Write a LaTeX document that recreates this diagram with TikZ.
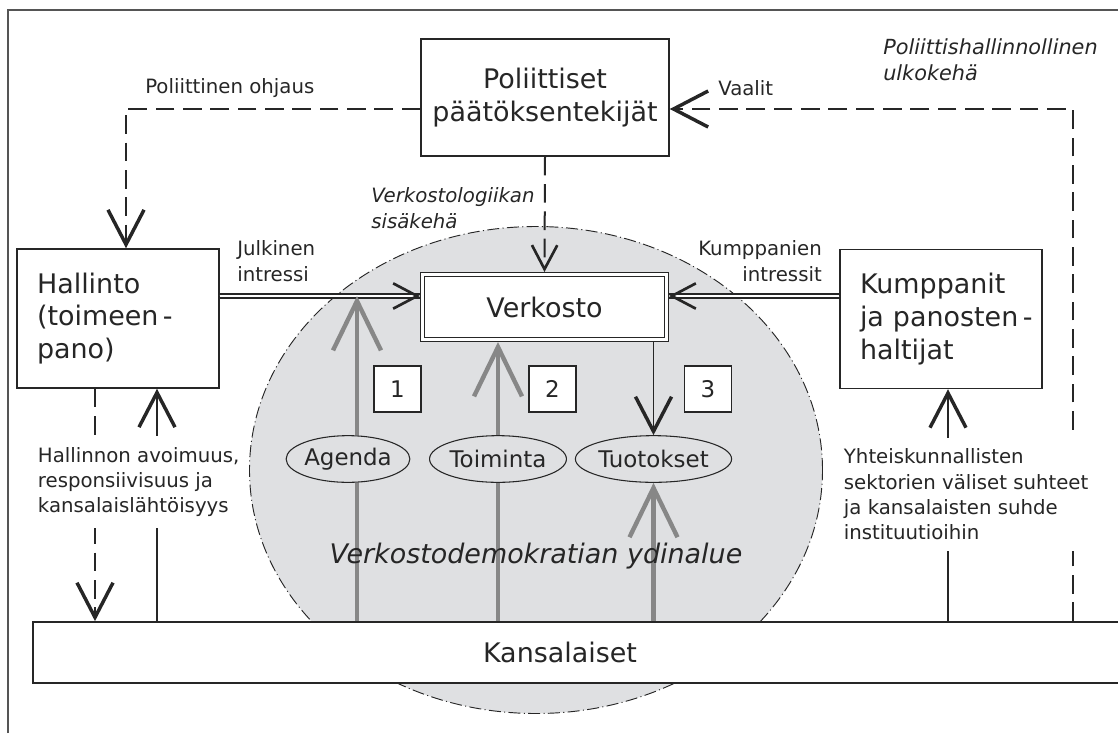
\documentclass[tikz,border=0pt]{standalone}
\usepackage{fontspec}
\setmainfont{DejaVu Sans}
\usetikzlibrary{arrows.meta,shapes.geometric}
\definecolor{coregray}{HTML}{DFE0E2}
\definecolor{arrowgray}{HTML}{878787}
\definecolor{framegray}{HTML}{555555}
\definecolor{inkgray}{HTML}{262626}
\newcommand{\bigText}[0]{\fontsize{20.2}{24.5}\selectfont}
\newcommand{\midText}[0]{\fontsize{17.2}{20}\selectfont}
\newcommand{\smallText}[0]{\fontsize{14.8}{19}\selectfont}
\newcommand{\lineY}[0]{296}

\begin{document}
\begin{tikzpicture}[x=0.75pt, y=-0.75pt, inkgray]
  \tikzset{
    box/.style={draw=inkgray, line width=1.1pt, fill=white, inner sep=0pt},
    sidebox/.style={box, text width=121.5pt, inner xsep=15pt, align=left, minimum height=104.25pt, font=\bigText},
    numbox/.style={box, minimum width=35pt, minimum height=34.5pt, font=\midText},
    stage/.style={ellipse, draw=inkgray, line width=0.8pt, fill=coregray, inner sep=0pt, minimum height=35pt, font=\midText},
    dashline/.style={draw=inkgray, line width=1.5pt, dash pattern=on 14pt off 6.5pt},
    thinline/.style={draw=inkgray, line width=1pt},
    dblline/.style={draw=inkgray, line width=0.9pt, double, double distance=2.2pt},
    hiddenline/.style={draw=white, line width=1pt},
    grayline/.style={draw=arrowgray, line width=3.3pt},
    note/.style={font=\smallText, inner sep=0pt, align=left},
    inote/.style={note, font=\smallText\itshape},
    gapnote/.style={note, fill=white, inner xsep=2pt, inner ysep=8pt},
    bigtip/.tip={Straight Barb[length=26pt, width=27pt, line width=2.6pt]},
    smalltip/.tip={Straight Barb[length=18pt, width=19pt, line width=2pt, color=inkgray]},
    graytip/.tip={Straight Barb[length=37pt, width=36pt, line width=3.3pt]}
  }
  \useasboundingbox (0,0) rectangle (1118,733);
  \node[ellipse, draw=inkgray, line width=0.7pt, dash pattern=on 9pt off 2.5pt on 0.8pt off 2.5pt, fill=coregray, minimum width=429.75pt, minimum height=365.25pt] (ydin) at (536,470) {};
  \draw[framegray, line width=1pt] (8,733) -- (8,10) -- (1118,10);
  \node[box, line width=1.3pt, minimum width=819pt, minimum height=45.75pt] (kansalaiset) at (579,652.5) {};
  \node[font=\bigText, inner sep=0pt] (kansalaisetTeksti) at (560,652) {Kansalaiset};
  \node[box, font=\bigText, align=center, minimum width=186pt, minimum height=87.75pt] (paattajat) at (545,97.5) {Poliittiset\\päätöksentekijät};
  \node[sidebox] (hallinto) at (118,318.5) {\mbox{Hallinto}\\\mbox{(toimeen\,-}\\\mbox{pano)}};
  \node[sidebox] (kumppanit) at (941,319) {\mbox{Kumppanit}\\\mbox{ja panosten\,-}\\\mbox{haltijat}};
  \node[box, font=\bigText, line width=0.9pt, double, double distance=2.2pt, outer sep=2pt, minimum width=182.75pt, minimum height=48.5pt] (verkosto) at (544.5,307) {Verkosto};
  \node[numbox] (vaihe1) at (397.5,389) {1};
  \node[numbox] (vaihe2) at (552.5,389) {2};
  \node[numbox] (vaihe3) at (708,389) {3};
  \node[stage, minimum width=76.5pt] (agenda) at (348,459) {Agenda};
  \node[stage, minimum width=93pt] (toiminta) at (498,459) {Toiminta};
  \node[stage, minimum width=117pt] (tuotokset) at (653.5,459) {Tuotokset};
  \coordinate (julkinenLinja) at (0,\lineY);
  \coordinate (agendaKohde) at (357,\lineY);
  \draw[dashline, -{bigtip}] (paattajat.west |- 0,109) -| (hallinto.north -| 126,0);
  \draw[dashline, -{bigtip}] (kansalaiset.north -| 1073,0) |- (paattajat.east |- 0,109);
  \draw[dashline, -{smalltip}] (paattajat.south) -- (verkosto.north);
  \draw[dashline, -{bigtip}] (hallinto.south -| 95,0) -- (kansalaiset.north -| 95,0);
  \draw[thinline, -{bigtip}] (kansalaiset.north -| 157,0) -- (hallinto.south -| 157,0);
  \draw[thinline, -{bigtip}] (kansalaiset.north -| 948,0) -- (kumppanit.south -| 948,0);
  \draw[dblline] (hallinto.east |- julkinenLinja) -- (verkosto.west |- julkinenLinja);
  \draw[dblline] (kumppanit.west |- julkinenLinja) -- (verkosto.east |- julkinenLinja);
  \draw[hiddenline, -{smalltip}] (hallinto.east |- julkinenLinja) -- (verkosto.west |- julkinenLinja);
  \draw[hiddenline, -{smalltip}] (kumppanit.west |- julkinenLinja) -- (verkosto.east |- julkinenLinja);
  \draw[grayline] (kansalaiset.north -| agendaKohde) -- (agenda.south -| agendaKohde);
  \draw[grayline, -{graytip}] (agenda.north -| agendaKohde) -- (agendaKohde);
  \draw[grayline] (kansalaiset.north -| toiminta.south) -- (toiminta.south);
  \draw[grayline, -{graytip}] (toiminta.north) -- (verkosto.south -| toiminta.north);
  \draw[grayline, -{graytip}] (kansalaiset.north -| tuotokset.south) -- (tuotokset.south);
  \draw[thinline, -{bigtip}] (verkosto.south -| tuotokset.north) -- (tuotokset.north);
  \node[note, anchor=west] (ohjausTeksti) at (145,88) {Poliittinen ohjaus};
  \node[note, anchor=west] (vaalitTeksti) at (718,88) {Vaalit};
  \node[inote, font=\fontsize{15.6}{19.5}\selectfont\itshape, anchor=west] (ulkokehaTeksti) at (883,60) {Poliittishallinnollinen\\ulkokehä};
  \node[inote, anchor=west] (sisakehaTeksti) at (371,208) {Verkostologiikan\\sisäkehä};
  \node[note, anchor=west] (julkinenTeksti) at (237,261) {Julkinen\\intressi};
  \node[note, anchor=east, align=right] (kumppanienTeksti) at (822,261) {Kumppanien\\intressit};
  \node[gapnote, anchor=west] (avoimuusTeksti) at (35,482) {Hallinnon avoimuus,\\responsiivisuus ja\\kansalaislähtöisyys};
  \node[gapnote, anchor=west] (suhteetTeksti) at (841,494.5) {Yhteiskunnallisten\\sektorien väliset suhteet\\ja kansalaisten suhde\\instituutioihin};
  \node[font=\bigText\itshape, inner sep=0pt] (ydinTeksti) at (536,556) {Verkostodemokratian ydinalue};
\end{tikzpicture}
\end{document}
